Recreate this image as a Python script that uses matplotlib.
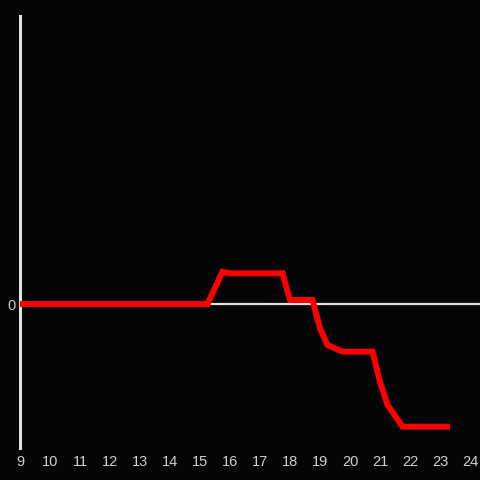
import matplotlib
matplotlib.use("Agg")
import matplotlib.pyplot as plt

plt.rcParams["font.family"] = ["Liberation Sans", "DejaVu Sans"]

hours = [9.0, 15.25, 15.75, 16.0, 17.75, 18.0, 18.75, 19.0, 19.25, 19.75, 20.75, 21.0, 21.25, 21.75, 23.33]
values = [0.0, 0.0, 0.224, 0.213, 0.213, 0.028, 0.028, -0.169, -0.285, -0.331, -0.331, -0.54, -0.70, -0.852, -0.852]
xticks = list(range(9, 25))
yticks = [0]

bg = "#050508"
fig = plt.figure(figsize=(4.8, 4.8), dpi=100, facecolor=bg)
ax = fig.add_axes([20/480, 32/480, 460/480, 432/480], facecolor=bg)
ax.axhline(0, color="#e0e0e0", lw=1.6, zorder=1)
ax.plot(hours, values, color="#ff0000", lw=4.3, solid_joinstyle="miter",
        solid_capstyle="butt", zorder=3)
ax.set_xlim(9, 24.333)
ax.set_ylim(-1, 2)
ax.set_xticks(xticks)
ax.set_xticklabels([str(t) for t in xticks])
ax.set_yticks(yticks)
ax.set_yticklabels(["0"])
ax.tick_params(axis="both", length=0, colors="#d0d0d0", labelsize=10.5)
ax.tick_params(axis="x", pad=5)
ax.tick_params(axis="y", pad=3)
for s in ["top", "right", "bottom"]:
    ax.spines[s].set_visible(False)
ax.spines["left"].set_color("#e0e0e0")
ax.spines["left"].set_linewidth(2.2)
fig.savefig("out.png", dpi=100, facecolor=bg)
